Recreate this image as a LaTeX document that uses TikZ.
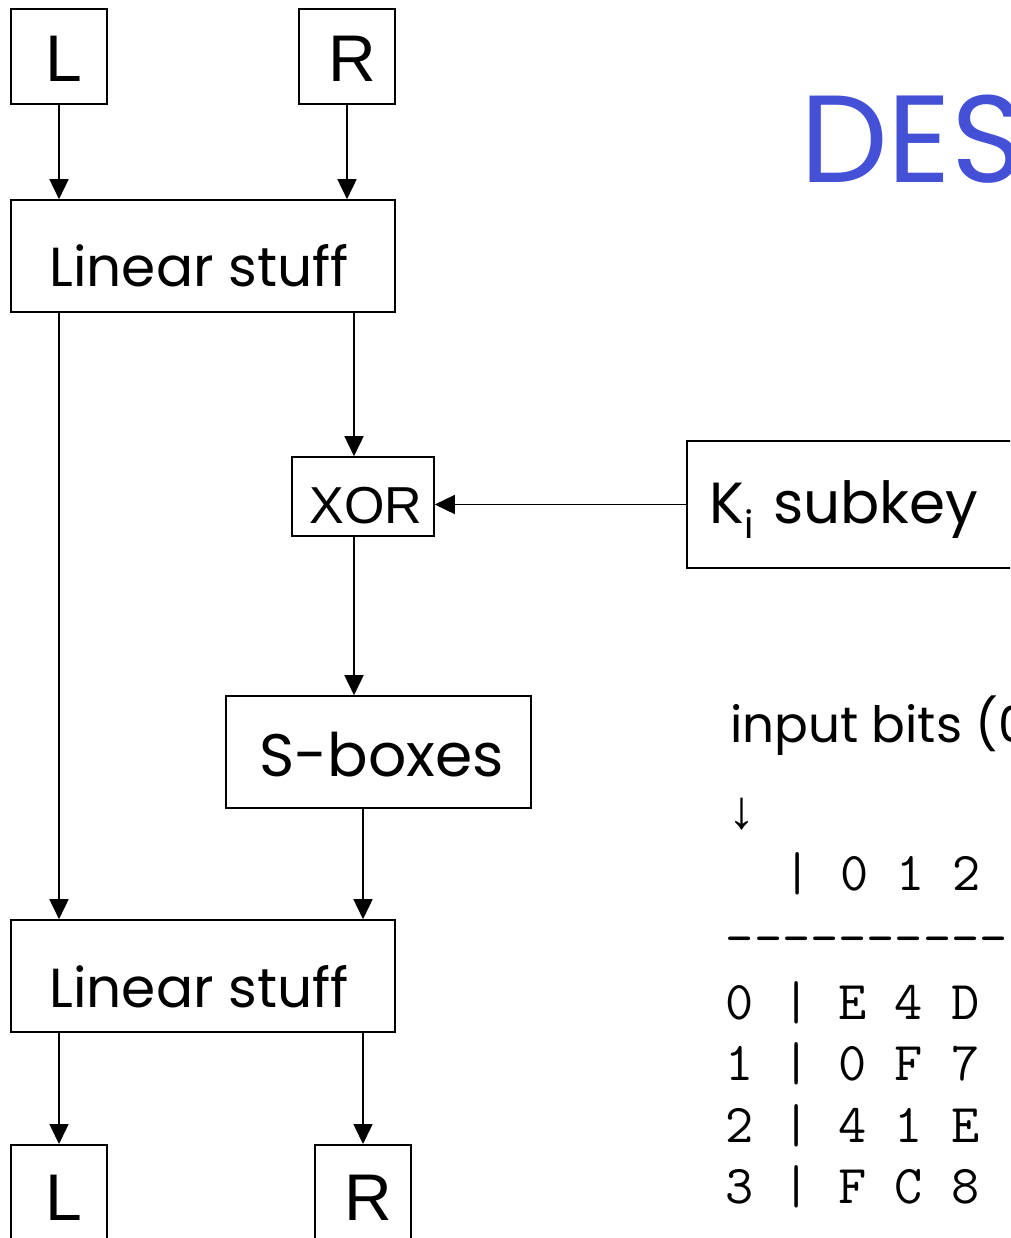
\documentclass[tikz,border=0pt]{standalone}
\usepackage{fontspec}
\usetikzlibrary{arrows.meta}
\newfontfamily\comicf{Poppins}
\newfontfamily\arialf{Liberation Sans}
\definecolor{desblue}{RGB}{68,80,214}
\newcommand{\fs}[1]{\fontsize{#1}{#1}\selectfont}
\newcommand{\hy}{\mbox{-}}
\begin{document}
\begin{tikzpicture}[x=1pt,y=-1pt,
  box/.style={draw, line width=1.6pt, inner sep=0pt, text depth=0pt},
  arr/.style={line width=1.6pt, -{Triangle[length=20pt,width=19pt]}},
  free/.style={anchor=base west, inner sep=0pt},
  tbl/.style={free, font=\ttfamily\fs{54.7}}]
\useasboundingbox (0,0) rectangle (1010,1238);
\clip (0,0) rectangle (1010,1238);
\coordinate (xa) at (354,0);
\coordinate (xb) at (363,0);
% boxes
\node[box, minimum width=96pt, minimum height=95pt, text height=51pt, font=\arialf\fs{66}] (Lt) at (59,56.5) {\kern10pt L};
\node[box, minimum width=96pt, minimum height=95pt, text height=51pt, font=\arialf\fs{66}] (Rt) at (347,56.5) {\kern10pt R};
\node[box, minimum width=384pt, minimum height=112pt, text height=62pt, font=\comicf\fs{55}] (Lin1) at (203,256) {Linear stuff\kern8pt};
\node[box, minimum width=142pt, minimum height=79pt, text height=53pt, font=\arialf\fs{52}] (XOR) at (363,496.5) {\kern6pt XOR};
\node[box, anchor=west, minimum height=127pt, text width=360pt, align=left, inner xsep=23pt, text height=37pt, font=\comicf\fs{58}] (Ki) at (686,504.5) {K\raisebox{-15pt}{\fs{38}i} subkey};
\node[box, minimum width=305pt, minimum height=112pt, text height=49pt, font=\comicf\fs{60}] (Sb) at (378.5,752) {\kern6pt S-boxes};
\node[box, minimum width=384pt, minimum height=112pt, text height=62pt, font=\comicf\fs{55}] (Lin2) at (203,976) {Linear stuff\kern8pt};
\node[box, minimum width=96pt, minimum height=100pt, text height=51pt, font=\arialf\fs{66}, anchor=north] (Lb) at (59,1144) {\kern10pt L};
\node[box, minimum width=96pt, minimum height=100pt, text height=51pt, font=\arialf\fs{66}, anchor=north] (Rb) at (363,1144) {\kern10pt R};
% connectors
\draw[arr] (Lt) -- (Lt |- Lin1.north);
\draw[arr] (Rt) -- (Rt |- Lin1.north);
\draw[arr] (Lin1.south -| Lt) -- (Lin2.north -| Lt);
\draw[arr] (Lin1.south -| xa) -- (XOR.north -| xa);
\draw[arr] (Ki.west) -- (Ki.west -| XOR.east);
\draw[arr] (XOR.south -| xa) -- (Sb.north -| xa);
\draw[arr] (Sb.south -| xb) -- (Lin2.north -| xb);
\draw[arr] (Lin2.south -| Lb) -- (Lb.north);
\draw[arr] (Lin2.south -| Rb) -- (Rb.north);
% free text
\node[free, font=\comicf\fs{124}, text=desblue] (des) at (800,183) {DES};
\node[free, font=\comicf\fs{50}] (inp) at (730,742) {input bits (0};
\node[free, font=\arialf\fs{54}] (darr) at (728,828) {↓};
\node[tbl] (hdr) at (783.6,890) {| 0 1 2};
\node[tbl] (dsh) at (725.7,955) {\hy\hy\hy\hy\hy\hy\hy\hy\hy\hy};
\node[tbl] (r0) at (725.7,1019) {0 | E 4 D};
\node[tbl] (r1) at (725.7,1080) {1 | 0 F 7};
\node[tbl] (r2) at (725.7,1142) {2 | 4 1 E};
\node[tbl] (r3) at (725.7,1203) {3 | F C 8};
\end{tikzpicture}
\end{document}
